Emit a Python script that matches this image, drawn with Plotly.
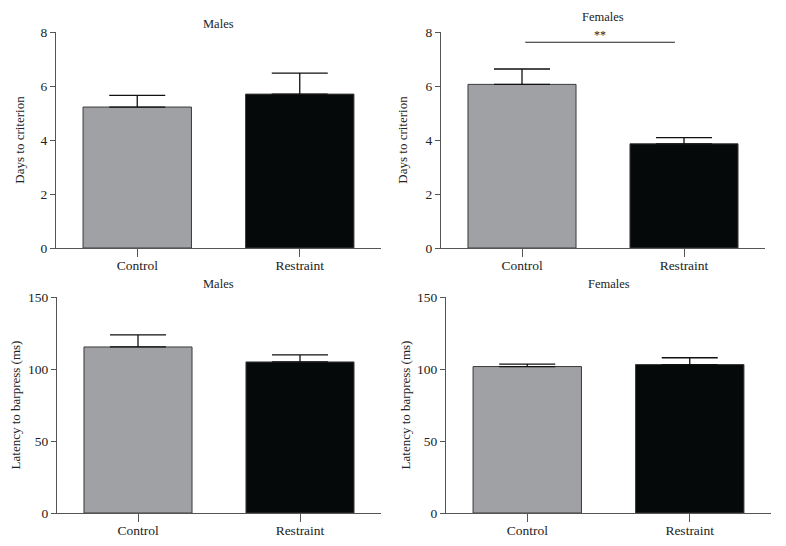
import plotly.graph_objects as go

categories = ["Control", "Restraint"]
days_males = [5.22, 5.70]
days_males_sem = [0.43, 0.78]
days_females = [6.06, 3.86]
days_females_sem = [0.57, 0.23]
lat_males = [115.3, 104.9]
lat_males_sem = [8.4, 4.9]
lat_females = [101.7, 103.1]
lat_females_sem = [1.7, 4.7]
panel_titles = ["Males", "Females", "Males", "Females"]
y_titles = ["Days to criterion", "Days to criterion",
            "Latency to barpress (ms)", "Latency to barpress (ms)"]
sig_label = "**"
sig_y = 7.62

bar_colors = ["#a0a1a5", "#05090a"]
# page body has an 8px margin; figure is sized so the page fits the 786x546 window
OFF = 8
W, H = 786 - 2 * OFF, 546 - 2 * OFF
FONT = "Liberation Serif, Times New Roman, serif"


def fx(px):
    return (px - OFF) / W


def fy(py):
    return 1 - (py - OFF) / H


fig = go.Figure()

panels = [
    dict(vals=days_males, err=days_males_sem, xd=(56, 381), yd=(32, 248), rng=[0, 8], dt=2, tt=24, so=12),
    dict(vals=days_females, err=days_females_sem, xd=(441, 765), yd=(32, 248), rng=[0, 8], dt=2, tt=17, so=14),
    dict(vals=lat_males, err=lat_males_sem, xd=(57, 381), yd=(297, 513), rng=[0, 150], dt=50, tt=284, so=5),
    dict(vals=lat_females, err=lat_females_sem, xd=(446, 771), yd=(297, 513), rng=[0, 150], dt=50, tt=284, so=3),
]

for i, p in enumerate(panels):
    n = "" if i == 0 else str(i + 1)
    xa, ya = "x" + n, "y" + n
    fig.add_trace(go.Bar(
        x=categories, y=p["vals"], xaxis=xa, yaxis=ya, width=0.667,
        marker=dict(color=bar_colors, line=dict(color="#3a3a3a", width=1)),
        error_y=dict(type="data", array=p["err"], arrayminus=[0, 0], symmetric=False,
                     color="#111111", thickness=1.3, width=28),
        showlegend=False, hoverinfo="x+y",
    ))
    xdom = [fx(p["xd"][0]), fx(p["xd"][1])]
    ydom = [fy(p["yd"][1]), fy(p["yd"][0])]
    fig.layout["xaxis" + n] = dict(
        domain=xdom, anchor=ya, type="category", range=[-0.5, 1.5],
        showline=True, linecolor="#555555", linewidth=1.2,
        ticks="outside", ticklen=8, tickcolor="#555555", tickwidth=1.2,
        ticklabelstandoff=-3,
        showgrid=False, zeroline=False, automargin=False,
        tickfont=dict(family=FONT, size=13.5, color="#222222"),
    )
    fig.layout["yaxis" + n] = dict(
        domain=ydom, anchor=xa, range=p["rng"], dtick=p["dt"],
        showline=True, linecolor="#555555", linewidth=1.2,
        ticks="outside", ticklen=5, tickcolor="#555555", tickwidth=1.2,
        showgrid=False, zeroline=False, automargin=False,
        tickfont=dict(family=FONT, size=13.5, color="#222222"),
        title=dict(text=y_titles[i], font=dict(family=FONT, size=13, color="#222222"),
                   standoff=p["so"]),
    )
    fig.add_annotation(
        text=panel_titles[i], x=fx((p["xd"][0] + p["xd"][1]) / 2), y=fy(p["tt"]),
        xref="paper", yref="paper", showarrow=False, xanchor="center", yanchor="middle",
        font=dict(family=FONT, size=12.5, color="#222222"),
    )

# significance bar on females days panel
fig.add_shape(type="line", xref="x2", yref="y2", x0=0.02, x1=0.944, y0=sig_y, y1=sig_y,
              line=dict(color="#222222", width=1))
fig.add_annotation(text=sig_label, xref="x2", yref="y2", x=0.48, y=sig_y + 0.28,
                   showarrow=False, yanchor="middle",
                   font=dict(family=FONT, size=12, color="#222222"))

fig.update_layout(
    width=W, height=H, margin=dict(l=0, r=0, t=0, b=0, autoexpand=False),
    paper_bgcolor="white", plot_bgcolor="white", bargap=0.33,
)

fig.write_html("out.html")
